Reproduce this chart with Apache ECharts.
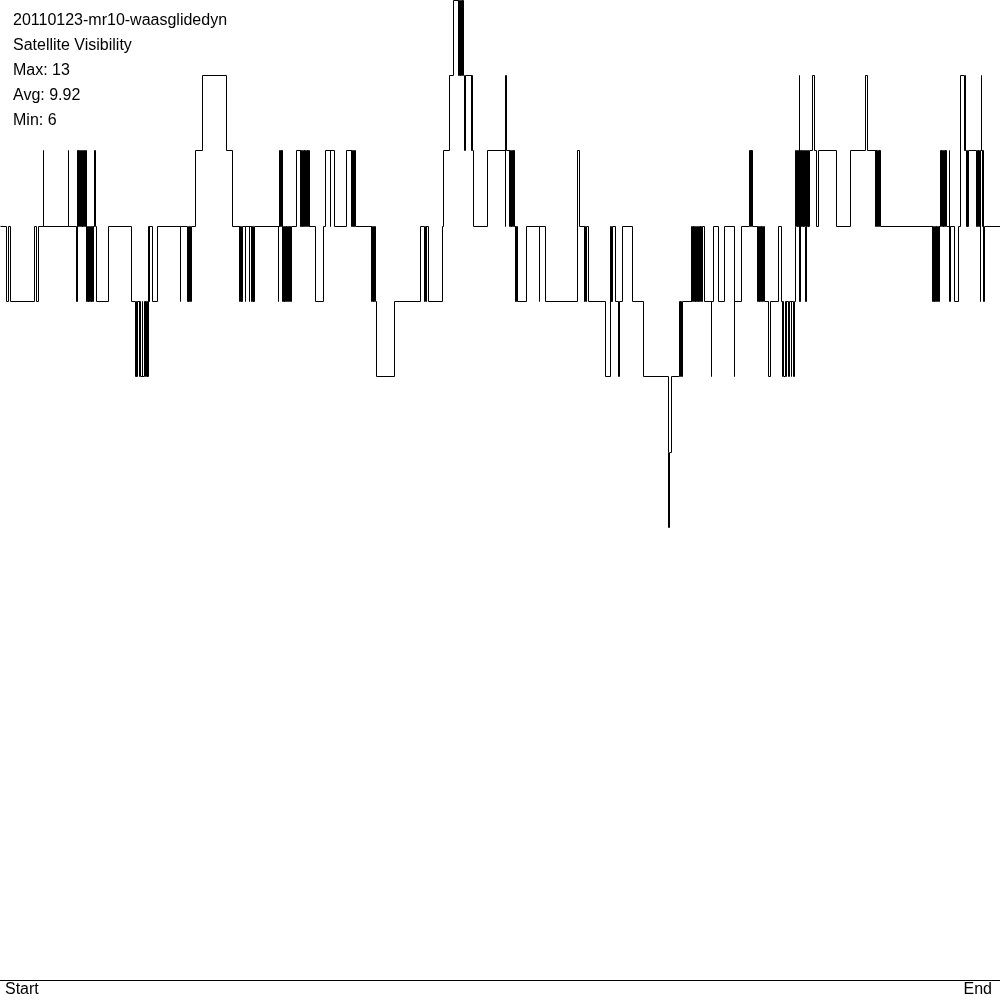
<!DOCTYPE html>
<html>
<head>
<meta charset="utf-8">
<script src="https://cdn.jsdelivr.net/npm/echarts@6/dist/echarts.min.js"></script>
<style>html,body{margin:0;padding:0;background:#fff}#c{width:1000px;height:1000px}</style>
</head>
<body>
<div id="c"></div>
<script>
const titleLines = ['20110123-mr10-waasglidedyn', 'Satellite Visibility', 'Max: 13', 'Avg: 9.92', 'Min: 6'];
const xTickLabels = ['Start', 'End'];
// time index at which the visible-satellite count changes, and the new count
const changeTimes = [
0,6,8,10,34,36,38,43,43.7,68,68.7,76.7,77.3,78.1,78.9,79.7,80.5,81.3,82.1,82.9,83.7,84.5,85.3,86.1,86.8,87.5,88.2,88.9,89.6,90.3,91,91.7,92.4,93.1,93.8,94.3,95.3,96,108.3,
131,135.5,136.2,136.9,137.5,139.2,139.9,140.5,142,142.7,144.3,145,145.7,146.4,147.1,147.8,148.3,149,149.6,152,157.3,180,180.7,187.5,188.2,188.9,189.6,190.3,191,195,202,226,232,
239,239.7,240.4,241.1,241.8,242.5,245,245.7,249,249.7,251,251.7,252.4,253.1,253.8,254.3,278,278.5,279,279.7,280.3,281,281.5,282,282.7,283.3,284,284.7,285.4,286.1,286.8,287.6,288.3,289,289.7,290.4,291,
296,300,300.7,301.4,302.1,302.8,303.5,304.2,304.9,305.6,306.3,307,307.7,308.4,309.1,309.8,315,323,325.7,330,330.7,334,346,351,351.6,352.3,353,353.7,354.4,355,371,371.7,372.4,373.1,373.8,374.5,375.2,376,
394,420,424.7,425.4,426,426.6,428.3,442,443,449,453,458,458.6,459.3,460,460.7,461.4,462.1,462.8,463.5,464.9,465.6,471,471.7,472.4,473,487,
505,505.5,506.5,509,509.7,510.4,511.1,511.8,512.5,513.2,513.9,514.4,515,515.7,516.4,517.1,517.8,526,539,539.7,545,577,579,584,584.7,585.4,586,588,605,610,610.6,611.2,611.8,612.4,615,618.3,619,622.7,
632.6,643,668,668.5,669.2,671.5,679.5,680.2,680.9,681.6,682.3,691,691.7,692.4,693.1,693.8,694.5,695.2,695.9,696.6,697.3,698,698.7,699.4,700.1,700.8,701.5,702.2,704,711,711.6,713,718,724,734,734.5,741,
749.5,750.1,750.7,751.3,751.9,752.5,757,757.7,758.4,759.1,759.8,760.5,761.2,761.9,762.6,763.5,764,768.3,770.5,778.3,781.5,782,782.7,783.4,785.3,786,786.6,788.3,789,791,791.6,793.6,794.3,
795.2,795.8,796.4,797,797.7,798.4,799,799.7,800.3,801,801.7,802.4,803.1,803.8,804.5,805.2,805.9,806.6,807.3,808,808.7,809.4,812,814,816,818,836,850,865,867,
875,875.6,876.3,876.9,877.7,878.4,879.1,879.8,880.5,932,932.7,933.4,934.1,934.8,935.5,936.2,936.9,937.6,938.3,939,939.7,940.3,941,941.7,942.4,943.1,943.8,944.5,945.2,945.9,946.6,
949,949.6,950.2,954.3,958.3,960,964.5,965.2,965.9,966.6,967.2,967.8,968.4,976.7,977.3,978,978.7,979.4,980,980.6,981,981.5,982.2,982.9,983.5,984.1,1000
];
const satCounts = [
10,9,10,9,10,9,10,11,10,11,10,9,11,10,11,10,11,10,11,10,11,10,11,9,10,9,10,9,10,9,10,9,10,9,10,11,10,9,10,
9,8,9,8,9,8,9,8,9,8,9,8,9,8,9,8,10,9,10,9,10,9,10,9,10,9,10,9,10,11,12,11,10,
9,10,9,10,9,10,9,10,9,10,9,10,9,10,9,10,9,10,11,10,11,10,11,9,10,9,10,9,10,9,10,9,10,9,10,9,10,
11,10,11,10,11,10,11,10,11,10,11,10,11,10,11,10,9,10,11,10,11,10,11,10,11,10,11,10,11,10,9,10,9,10,9,10,9,8,
9,10,9,10,9,10,9,10,11,12,13,12,13,12,13,12,13,12,13,12,11,12,11,12,11,10,11,
10,12,11,10,11,10,11,10,11,10,11,10,9,10,9,10,9,10,9,10,9,11,10,9,10,9,10,9,8,10,9,10,9,10,9,8,9,10,
9,8,7,6,7,8,9,8,9,8,9,10,9,10,9,10,9,10,9,10,9,10,9,10,9,10,9,10,9,8,9,10,9,10,8,9,10,
11,10,11,10,11,10,9,10,9,10,9,10,9,10,9,10,9,8,9,10,9,8,9,8,9,8,9,8,9,8,9,8,9,
10,11,10,11,10,11,12,9,11,10,11,10,11,10,11,10,9,11,10,11,10,11,12,11,10,11,10,11,12,11,
10,11,10,11,10,11,10,11,10,9,10,9,10,9,10,9,10,9,10,9,10,11,10,11,10,11,10,11,10,11,10,
11,9,10,9,10,12,11,12,11,10,11,10,11,10,11,10,11,10,9,11,12,11,10,11,9,10,10
];

// each step: [start time, count, next change time, next count]
const stepData = changeTimes.slice(0, -1).map((t, i) => [t, satCounts[i], changeTimes[i + 1], satCounts[i + 1]]);
const FONT = '"Liberation Sans", Arial, sans-serif';

function snap(v) { return Math.round(v - 0.5) + 0.5; }

const chart = echarts.init(document.getElementById('c'), null, {renderer: 'canvas'});
chart.setOption({
  animation: false,
  backgroundColor: '#ffffff',
  title: {
    text: titleLines.join('\n'),
    left: 13,
    top: 8,
    padding: 0,
    textStyle: {fontFamily: FONT, fontSize: 16, fontWeight: 'normal', color: '#000', lineHeight: 25}
  },
  grid: {left: 0, right: 0, top: 0, bottom: 20, containLabel: false},
  xAxis: {
    type: 'value',
    min: 0,
    max: 1000,
    interval: 1000,
    axisLine: {show: true, onZero: false, lineStyle: {color: '#000', width: 1}},
    axisTick: {show: false},
    splitLine: {show: false},
    axisLabel: {
      show: true,
      margin: 2,
      showMinLabel: true,
      showMaxLabel: true,
      alignMinLabel: 'left',
      alignMaxLabel: 'right',
      color: '#000',
      fontFamily: FONT,
      fontSize: 16,
      formatter: function (v) { return v === 0 ? '{a|' + xTickLabels[0] + '}' : '{b|' + xTickLabels[1] + '}'; },
      rich: {
        a: {fontFamily: FONT, fontSize: 16, color: '#000', padding: [0, 0, 0, 5]},
        b: {fontFamily: FONT, fontSize: 16, color: '#000', padding: [0, 8, 0, 0]}
      }
    }
  },
  yAxis: {
    type: 'value',
    min: 0,
    max: 13,
    show: false,
    splitLine: {show: false}
  },
  series: [{
    type: 'custom',
    data: stepData,
    clip: false,
    silent: true,
    encode: {x: [0, 2], y: [1, 3]},
    renderItem: function (params, api) {
      const a = api.coord([api.value(0), api.value(1)]);
      const b = api.coord([api.value(2), api.value(1)]);
      const c = api.coord([api.value(2), api.value(3)]);
      return {
        type: 'polyline',
        shape: {points: [[snap(a[0]), snap(a[1])], [snap(b[0]), snap(b[1])], [snap(c[0]), snap(c[1])]]},
        style: {stroke: '#000', lineWidth: 1, fill: null}
      };
    }
  }]
});
</script>
</body>
</html>
